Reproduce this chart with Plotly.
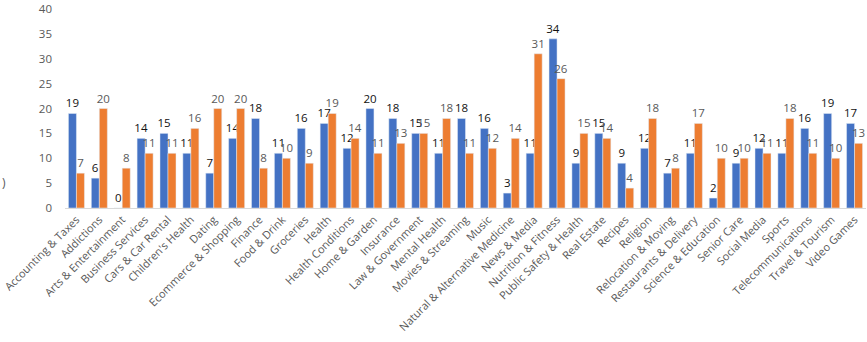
import plotly.graph_objects as go

categories = ["Accounting & Taxes", "Addictions", "Arts & Entertainment", "Business Services",
              "Cars & Car Rental", "Children's Health", "Dating", "Ecommerce & Shopping", "Finance",
              "Food & Drink", "Groceries", "Health", "Health Conditions", "Home & Garden", "Insurance",
              "Law & Government", "Mental Health", "Movies & Streaming", "Music",
              "Natural & Alternative Medicine", "News & Media", "Nutrition & Fitness",
              "Public Safety & Health", "Real Estate", "Recipes", "Religion", "Relocation & Moving",
              "Restaurants & Delivery", "Science & Education", "Senior Care", "Social Media", "Sports",
              "Telecommunications", "Travel & Tourism", "Video Games"]
series_blue = [19, 6, 0, 14, 15, 11, 7, 14, 18, 11, 16, 17, 12, 20, 18, 15, 11, 18, 16, 3, 11, 34,
               9, 15, 9, 12, 7, 11, 2, 9, 12, 11, 16, 19, 17]
series_orange = [7, 20, 8, 11, 11, 16, 20, 20, 8, 10, 9, 19, 14, 11, 13, 15, 18, 11, 12, 14, 31, 26,
                 15, 14, 4, 18, 8, 17, 10, 10, 11, 18, 11, 10, 13]

fig = go.Figure()
fig.add_trace(go.Bar(x=categories, y=series_blue, marker_color="#4472C4", text=series_blue,
                     textposition="outside", cliponaxis=False, constraintext="none",
                     textfont=dict(family="Open Sans", size=11.5, color="#111111")))
fig.add_trace(go.Bar(x=categories, y=series_orange, marker_color="#ED7D31", text=series_orange,
                     textposition="outside", cliponaxis=False, constraintext="none",
                     textfont=dict(family="Open Sans", size=11.5, color="#595959")))

fig.update_layout(
    width=867, height=342,
    margin=dict(l=65, r=1, t=9, b=134),
    barmode="group", bargap=0.3, bargroupgap=0,
    plot_bgcolor="white", paper_bgcolor="white",
    showlegend=False,
    font=dict(family="Open Sans", color="#595959"),
)
fig.update_xaxes(tickangle=-45, tickfont=dict(size=11, color="#595959"), showline=True,
                 linecolor="#d9d9d9", linewidth=1, ticks="", showgrid=False)
fig.update_yaxes(range=[0, 40], dtick=5, showgrid=False, zeroline=False, showline=False,
                 tickfont=dict(size=11.5, color="#595959"), ticklabelstandoff=12)
fig.add_annotation(text=")", x=-65/801, y=(208-193)/199, xref="x domain", yref="y domain",
                   showarrow=False, xanchor="left", font=dict(size=12, color="#595959"))
fig.write_html("out.html")
